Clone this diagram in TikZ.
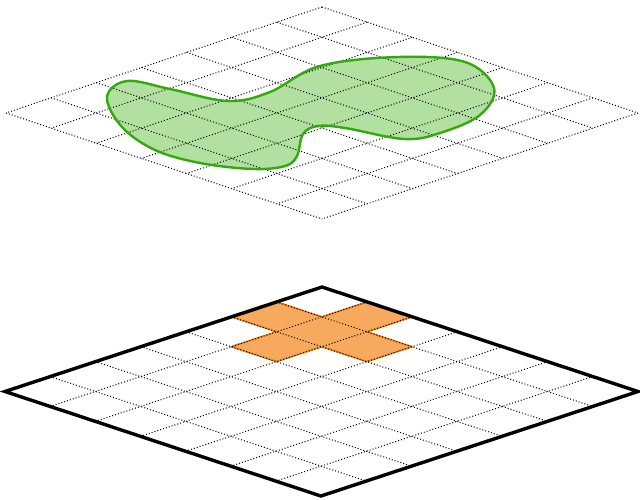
\documentclass[tikz,border=0pt]{standalone}
\definecolor{blobline}{RGB}{52,168,14}
\definecolor{blobfill}{RGB}{178,224,160}
\definecolor{crossfill}{RGB}{247,170,94}
\definecolor{crossline}{RGB}{238,128,16}
\begin{document}
\begin{tikzpicture}[x=1pt,y=1pt,
  gridline/.style={dotted,line width=1pt},
  upper/.style={cm={45.14,-15.14,-45.14,-15.14,(322,492)}},
  lower/.style={cm={45.14,-14.93,-45.29,-14.93,(322,212)}}]
\useasboundingbox (0,0) rectangle (640,499);
\def\blobpath{plot[smooth cycle,tension=0.6] coordinates {(107,402) (127,418) (170,410) (228,398) (270,407) (320,433) (398,442) (465,437) (494,411) (480,384) (440,366) (404,360) (345,371) (318,373) (303,365) (297,343) (285,333) (253,330) (200,336) (155,349) (122,372)}}
\fill[blobfill] \blobpath;
\begin{scope}[upper]
\foreach \k in {0,...,7} {
  \draw[gridline] (\k,0) -- (\k,7);
  \draw[gridline] (0,\k) -- (7,\k);
}
\end{scope}
\draw[blobline,line width=2.4pt] \blobpath;
\begin{scope}[lower]
\filldraw[fill=crossfill,draw=crossline,line width=1.6pt,line join=round] (1,0) -- (2,0) -- (2,1) -- (3,1) -- (3,2) -- (2,2) -- (2,3) -- (1,3) -- (1,2) -- (0,2) -- (0,1) -- (1,1) -- cycle;
\foreach \k in {1,...,6} {
  \draw[gridline] (\k,0) -- (\k,7);
  \draw[gridline] (0,\k) -- (7,\k);
}
\draw[line width=3.4pt,line join=miter] (0,0) rectangle (7,7);
\end{scope}
\end{tikzpicture}
\end{document}
